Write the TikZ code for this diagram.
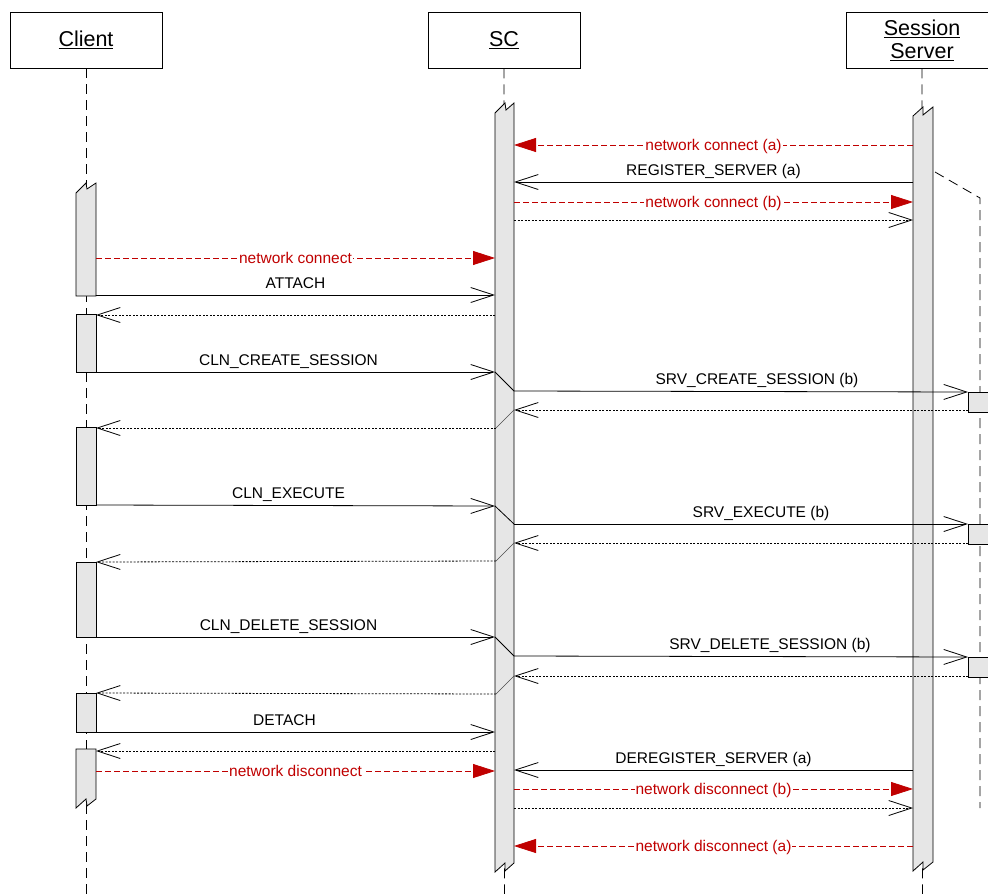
\documentclass[tikz,border=0pt]{standalone}
\usepackage{fontspec}
\setmainfont{Liberation Sans}
\usetikzlibrary{arrows.meta}
\definecolor{netred}{RGB}{192,0,0}
\definecolor{actbg}{RGB}{230,230,230}
\begin{document}
\begin{tikzpicture}[x=1pt,y=-1pt,
  every node/.style={font=\fontsize{15.5}{18}\selectfont, inner sep=1pt},
  hdr/.style={draw, line width=0.8pt, minimum width=152pt, minimum height=56pt, inner sep=2pt, font=\fontsize{21.5}{25}\selectfont, align=center},
  life/.style={line width=0.8pt, dash pattern=on 10pt off 6pt},
  act/.style={fill=actbg, draw=black, line width=0.8pt},
  msg/.style={line width=0.8pt, draw=black},
  barb/.style={-{Straight Barb[length=23pt,width=15pt,line width=0.8pt]}},
  ret/.style={line width=0.8pt, dash pattern=on 2pt off 1.5pt},
  diag/.style={line width=0.6pt, draw=black!70},
  net/.style={draw=netred, line width=0.8pt, dash pattern=on 6pt off 3pt, -{Triangle[length=22pt,width=14pt,fill=netred]}},
  netlbl/.style={text=netred, fill=white, anchor=base, yshift=-5pt, inner sep=1pt},
  lbl/.style={anchor=base, yshift=7pt}
]
\useasboundingbox (0,0) rectangle (988,894);
\clip (0,0) rectangle (988,894);
\fill[white] (0,0) rectangle (988,894);

% headers
\node[hdr] (client) at (86,40) {\underline{Client}};
\node[hdr] (sc) at (504,40) {\underline{SC}};
\node[hdr] (ss) at (922,40) {\underline{Session}\\[-2pt]\underline{Server}};

% lifeline ends
\coordinate (clientend) at (86,894);
\coordinate (scend) at (504.5,894);
\coordinate (ssend) at (922.5,894);
\draw[life] (client.south) -- (clientend);
\draw[life] (sc.south) -- (scend);
\draw[life] (ss.south) -- (ssend);

% secondary (server instance) lifeline
\coordinate (bkA) at (935,172);
\coordinate (bkB) at (980,198);
\coordinate (bkC) at (980,808);
\draw[life] (bkA) -- (bkB) -- (bkC);

% activations
\filldraw[act] (495,113) -- (505,103) -- (506,110) -- (514,103) -- (514,863) -- (505,871) -- (505,863) -- (495,872) -- cycle;
\filldraw[act] (913,116) -- (923,107) -- (923,115) -- (933,107) -- (933,862) -- (923,870) -- (923,862) -- (913,871) -- cycle;
\filldraw[act] (76,193) -- (86,183) -- (87,189) -- (96,183) -- (96,296) -- (76,296) -- cycle;
\filldraw[act] (76,314) rectangle (96,372);
\filldraw[act] (76,427) rectangle (96,505);
\filldraw[act] (76,562) rectangle (96,637);
\filldraw[act] (76,693) rectangle (96,732);
\filldraw[act] (76,749) -- (96,749) -- (96,799) -- (87,806) -- (86,799) -- (76,808) -- cycle;
\filldraw[act] (968,392) rectangle (996,412);
\filldraw[act] (968,524) rectangle (996,544);
\filldraw[act] (968,657) rectangle (996,677);

% message end points
\coordinate (a1) at (913,145); \coordinate (a2) at (514,145);
\coordinate (b1) at (913,182); \coordinate (b2) at (514,182);
\coordinate (c1) at (514,202); \coordinate (c2) at (913,202);
\coordinate (d1) at (514,220); \coordinate (d2) at (913,220);
\coordinate (e1) at (96,258);  \coordinate (e2) at (495,258);
\coordinate (f1) at (96,295);  \coordinate (f2) at (495,295);
\coordinate (g1) at (495,315); \coordinate (g2) at (96,315);
\coordinate (h1) at (96,372);  \coordinate (h2) at (495,372);
\coordinate (h3) at (514,391); \coordinate (h4) at (968,392);
\coordinate (i1) at (968,410); \coordinate (i2) at (514,410);
\coordinate (i3) at (496,428); \coordinate (i4) at (96,428);
\coordinate (j1) at (96,505);  \coordinate (j2) at (495,506);
\coordinate (j3) at (514,524); \coordinate (j4) at (968,524);
\coordinate (k1) at (968,543); \coordinate (k2) at (514,543);
\coordinate (k3) at (496,561); \coordinate (k4) at (96,562);
\coordinate (l1) at (96,637);  \coordinate (l2) at (495,637);
\coordinate (l3) at (514,656); \coordinate (l4) at (968,657);
\coordinate (m1) at (968,676); \coordinate (m2) at (514,676);
\coordinate (m3) at (496,694); \coordinate (m4) at (96,693);
\coordinate (n1) at (96,732);  \coordinate (n2) at (495,732);
\coordinate (o1) at (495,751); \coordinate (o2) at (96,751);
\coordinate (p1) at (96,771);  \coordinate (p2) at (495,771);
\coordinate (q1) at (913,770); \coordinate (q2) at (514,770);
\coordinate (r1) at (514,789); \coordinate (r2) at (913,789);
\coordinate (s1) at (514,808); \coordinate (s2) at (913,808);
\coordinate (t1) at (913,846); \coordinate (t2) at (514,846);

% messages
\draw[net] (a1) -- node[netlbl] {network connect (a)} (a2);
\draw[msg,barb] (b1) -- node[lbl] {REGISTER\_SERVER (a)} (b2);
\draw[net] (c1) -- node[netlbl] {network connect (b)} (c2);
\draw[ret,barb] (d1) -- (d2);
\draw[net] (e1) -- node[netlbl] {network connect} (e2);
\draw[msg,barb] (f1) -- node[lbl] {ATTACH} (f2);
\draw[ret,barb] (g1) -- (g2);

\draw[msg,barb] (h1) -- node[lbl,xshift=-7pt] {CLN\_CREATE\_SESSION} (h2);
\draw[msg] (h2) -- (h3);
\draw[msg,barb] (h3) -- node[lbl,xshift=16pt] {SRV\_CREATE\_SESSION (b)} (h4);
\draw[ret,barb] (i1) -- (i2);
\draw[diag] (i2) -- (i3);
\draw[ret,barb] (i3) -- (i4);

\draw[msg,barb] (j1) -- node[lbl,xshift=-7pt] {CLN\_EXECUTE} (j2);
\draw[msg] (j2) -- (j3);
\draw[msg,barb] (j3) -- node[lbl,xshift=20pt] {SRV\_EXECUTE (b)} (j4);
\draw[ret,barb] (k1) -- (k2);
\draw[diag] (k2) -- (k3);
\draw[ret,barb] (k3) -- (k4);

\draw[msg,barb] (l1) -- node[lbl,xshift=-7pt] {CLN\_DELETE\_SESSION} (l2);
\draw[msg] (l2) -- (l3);
\draw[msg,barb] (l3) -- node[lbl,xshift=29pt] {SRV\_DELETE\_SESSION (b)} (l4);
\draw[ret,barb] (m1) -- (m2);
\draw[diag] (m2) -- (m3);
\draw[ret,barb] (m3) -- (m4);

\draw[msg,barb] (n1) -- node[lbl,xshift=-11pt] {DETACH} (n2);
\draw[ret,barb] (o1) -- (o2);
\draw[net] (p1) -- node[netlbl] {network disconnect} (p2);
\draw[msg,barb] (q1) -- node[lbl] {DEREGISTER\_SERVER (a)} (q2);
\draw[net] (r1) -- node[netlbl] {network disconnect (b)} (r2);
\draw[ret,barb] (s1) -- (s2);
\draw[net] (t1) -- node[netlbl] {network disconnect (a)} (t2);
\end{tikzpicture}
\end{document}
